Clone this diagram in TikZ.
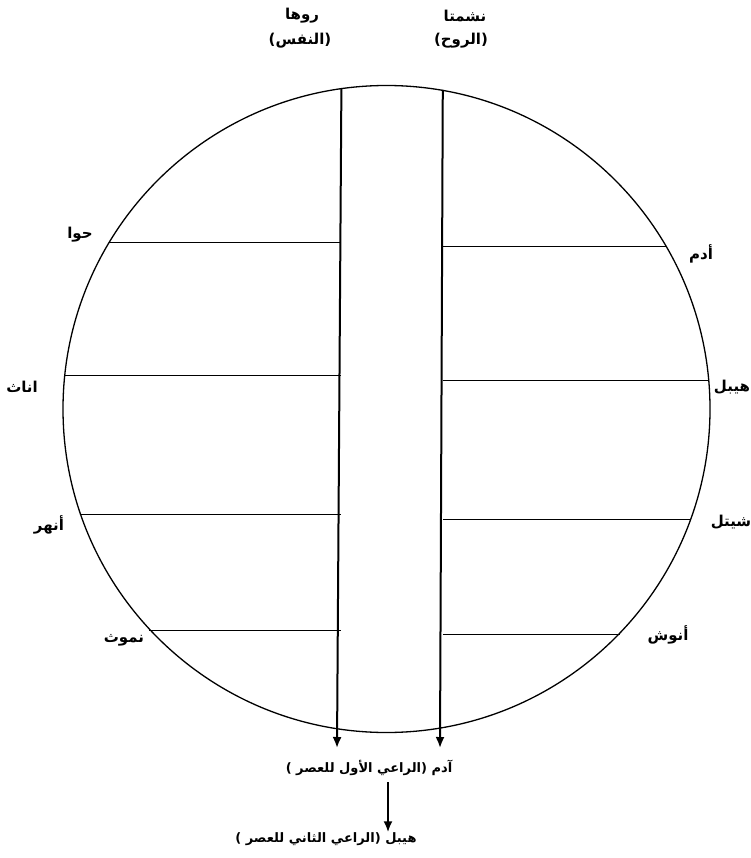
\documentclass[tikz,border=0pt]{standalone}
\usepackage{fontspec}
\newfontfamily\arabicfont[Script=Arabic]{DejaVu Sans}
\TeXXeTstate=1
\usetikzlibrary{arrows.meta,positioning,calc}
\tikzset{
  rim/.style={draw, circle, line width=1.3pt, inner sep=0pt, minimum size=647pt},
  rung/.style={line width=1.1pt},
  axis/.style={line width=2pt, -{Latex[length=11pt,width=9pt]}},
  lbl/.style={font=\arabicfont\bfseries\fontsize{15}{17}\selectfont, inner sep=0pt},
  era/.style={font=\arabicfont\bfseries\fontsize{13}{15}\selectfont, inner sep=0pt},
}

\begin{document}
\begin{tikzpicture}[x=1pt, y=-1pt]
  \useasboundingbox (0,0) rectangle (751,858);
  \node[rim] (disk) at (386.5,409) {};
  \coordinate (ltop) at (disk.98.8);
  \coordinate (rtop) at (disk.80.5);
  \coordinate (lbot) at (337,748);
  \coordinate (rbot) at (440,748);
  \draw[axis] (ltop) -- (lbot);
  \draw[axis] (rtop) -- (rbot);
  \foreach \a/\b in {149.5/30.5, 174.9/5.1, 199.1/340.9, 223.6/316.4} {
    \draw[rung] (disk.\a) -- (disk.\a -| ltop);
    \draw[rung] (rtop |- disk.\b) -- (disk.\b);
  }
  % headings
  \node[lbl] (ruha) at (302,16) {روها};
  \node[lbl] (nafs) at (300,41) {(النفس)};
  \node[lbl] (nishmta) at (465,16) {نشمتا};
  \node[lbl] (ruh) at (461,41) {(الروح)};
  % left side
  \node[lbl] (hawa) at (80,235) {حوا};
  \node[lbl] (inath) at (22,387) {اناث};
  \node[lbl] (anhar) at (49,525) {أنهر};
  \node[lbl] (nmoth) at (124,640) {نموث};
  % right side
  \node[lbl] (adam) at (701,254) {أدم};
  \node[lbl] (hibil) at (732,387) {هيبل};
  \node[lbl] (shitil) at (731,522) {شيتل};
  \node[lbl] (anosh) at (668,635) {أنوش};
  % below
  \node[era] (first) at (369,768) {\beginR آدم (الراعي الأول للعصر )\endR};
  \node[era] (second) at (326,839) {\beginR هيبل (الراعي الثاني للعصر )\endR};
  \coordinate (down) at (388,782);
  \draw[axis] (down) -- (down |- second.north);
\end{tikzpicture}
\end{document}
